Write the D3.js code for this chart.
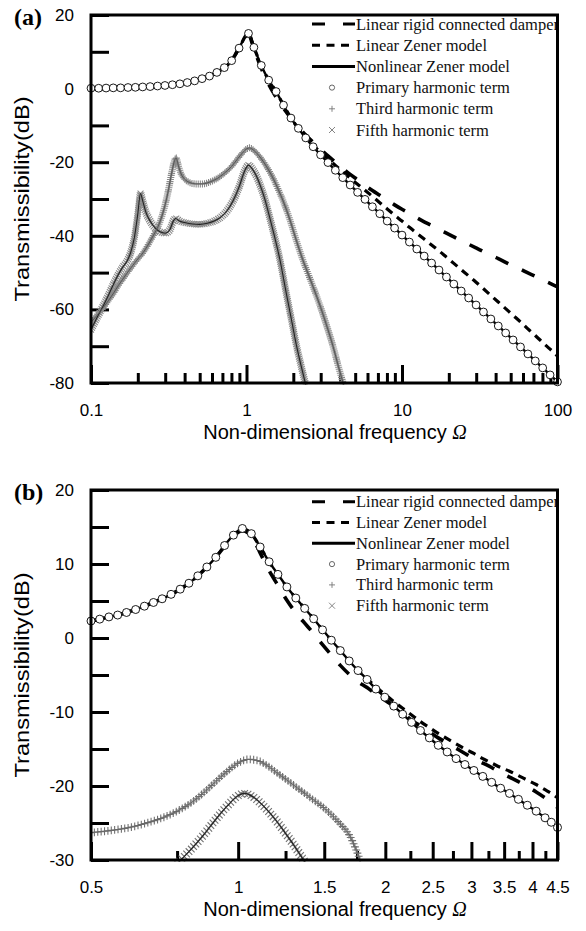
<!DOCTYPE html>
<html><head><meta charset="utf-8">
<script src="https://cdn.jsdelivr.net/npm/d3@7"></script>
<style>body{margin:0;background:#fff}svg{display:block}</style>
</head><body>
<svg id="c" width="586" height="931"></svg>
<script>
// ---------------- DATA: panel (a) ----------------
const freqA = [0.100,0.112,0.125,0.139,0.155,0.173,0.193,0.215,0.240,0.268,0.299,0.334,0.373,0.416,0.464,0.518,0.578,0.645,0.720,0.803,0.896,1.030,1.116,1.245,1.389,1.550,1.730,1.931,2.154,2.404,2.683,2.994,3.341,3.728,4.160,4.642,5.180,5.781,6.451,7.197,8.031,8.962,10.00,11.16,12.45,13.89,15.50,17.30,19.31,21.54,24.04,26.83,29.94,33.41,37.28,41.60,46.42,51.80,57.81,64.51,71.97,80.31,89.62,100.0];
const primaryA = [0.1,0.1,0.15,0.2,0.2,0.3,0.35,0.45,0.55,0.7,0.85,1.05,1.3,1.65,2.1,2.7,3.4,4.4,5.7,7.6,11.0,15.0,11.2,6.3,2.3,-0.8,-4.5,-8.0,-10.8,-13.4,-15.8,-18.0,-20.1,-22.2,-24.2,-26.2,-28.2,-30.1,-32.1,-34.0,-36.0,-37.9,-39.8,-41.7,-43.6,-45.5,-47.4,-49.3,-51.2,-53.1,-55.0,-56.9,-58.8,-60.7,-62.6,-64.5,-66.4,-68.3,-70.2,-72.1,-74.0,-75.9,-77.8,-79.7];
const zenerA = [0.1,0.1,0.15,0.2,0.2,0.3,0.35,0.45,0.55,0.7,0.85,1.05,1.3,1.65,2.1,2.7,3.4,4.4,5.7,7.6,11.0,15.0,11.2,6.3,2.3,-0.8,-4.5,-8.0,-10.8,-13.2,-15.4,-17.3,-19.1,-20.9,-22.6,-24.3,-26.0,-27.6,-29.3,-31.0,-32.7,-34.4,-36.0,-37.7,-39.3,-40.9,-42.5,-44.1,-45.8,-47.5,-49.2,-50.9,-52.6,-54.4,-56.2,-58.0,-59.8,-61.6,-63.4,-65.3,-67.1,-69.0,-70.8,-72.7];
const rigidA = [0.1,0.1,0.15,0.2,0.2,0.3,0.35,0.45,0.55,0.7,0.85,1.05,1.3,1.65,2.1,2.7,3.4,4.4,5.7,7.6,11.0,14.6,10.8,5.5,1.2,-2.3,-5.3,-8.0,-10.4,-12.6,-14.6,-16.5,-18.3,-20.0,-21.7,-23.3,-24.8,-26.3,-27.7,-29.0,-30.3,-31.6,-32.8,-33.9,-35.1,-36.2,-37.2,-38.3,-39.3,-40.3,-41.3,-42.3,-43.3,-44.3,-45.3,-46.2,-47.2,-48.2,-49.1,-50.1,-51.0,-52.0,-52.9,-53.9];
const thirdA_f  = [0.100,0.110,0.120,0.130,0.140,0.150,0.160,0.170,0.180,0.190,0.200,0.210,0.225,0.240,0.255,0.270,0.285,0.300,0.315,0.330,0.345,0.352,0.365,0.380,0.400,0.430,0.470,0.520,0.580,0.650,0.720,0.800,0.880,0.950,1.000,1.045,1.100,1.200,1.300,1.400,1.500,1.600,1.730,1.900,2.100,2.300,2.500,2.700,3.000,3.300,3.600,3.900,4.250];
const thirdA_db = [-63.5,-61.5,-59.5,-57.5,-55.5,-53.5,-51.8,-50.2,-48.8,-47.5,-46.3,-45.3,-43.5,-41.5,-39.5,-37.5,-34.8,-31.5,-27.5,-23.0,-19.5,-18.8,-21.0,-23.2,-24.6,-25.5,-25.9,-25.9,-25.4,-24.4,-23.0,-21.2,-19.0,-17.3,-16.4,-16.1,-16.6,-18.2,-20.2,-22.4,-24.8,-27.4,-30.8,-35.6,-41.5,-46.5,-50.5,-54.2,-59.5,-64.8,-70.0,-75.5,-81.0];
const fifthA_f  = [0.100,0.110,0.120,0.130,0.140,0.150,0.160,0.170,0.180,0.190,0.200,0.208,0.215,0.225,0.240,0.260,0.280,0.300,0.320,0.340,0.350,0.370,0.400,0.450,0.500,0.560,0.620,0.680,0.750,0.820,0.900,0.970,1.030,1.080,1.150,1.230,1.300,1.400,1.500,1.640,1.800,1.950,2.100,2.250,2.420];
const fifthA_db = [-65.5,-62.0,-59.0,-56.0,-53.0,-50.5,-48.5,-47.0,-44.5,-40.5,-34.0,-28.5,-30.5,-33.5,-36.0,-38.0,-39.0,-39.3,-38.5,-35.8,-35.3,-36.0,-36.4,-36.8,-36.9,-36.6,-36.0,-35.0,-33.2,-30.5,-26.5,-22.5,-20.8,-21.6,-23.5,-26.5,-29.5,-34.5,-39.5,-46.5,-55.5,-63.0,-70.0,-75.5,-81.0];
const xTicksA = [0.1,1,10,100];
const xMinorA = [0.2,0.3,0.4,0.5,0.6,0.7,0.8,0.9,2,3,4,5,6,7,8,9,20,30,40,50,60,70,80,90];
const yTicksA = [-80,-70,-60,-50,-40,-30,-20,-10,0,10,20];
const yLabelsA = [-80,-60,-40,-20,0,20];

// ---------------- DATA: panel (b) ----------------
const freqB = [0.500,0.521,0.544,0.567,0.591,0.617,0.643,0.671,0.699,0.729,0.761,0.793,0.827,0.863,0.900,0.938,0.978,1.020,1.064,1.109,1.157,1.206,1.258,1.312,1.368,1.427,1.488,1.551,1.618,1.687,1.759,1.835,1.913,1.995,2.081,2.170,2.263,2.360,2.461,2.566,2.676,2.791,2.910,3.035,3.165,3.300,3.442,3.589,3.743,3.903,4.070,4.244,4.370,4.500];
const primaryB = [2.3,2.55,2.85,3.1,3.45,3.85,4.3,4.8,5.3,5.9,6.6,7.4,8.4,9.6,10.9,12.5,13.9,14.8,14.1,12.3,10.3,8.6,6.9,5.4,4.0,2.6,1.1,-0.3,-1.7,-3.1,-4.4,-5.6,-6.9,-8.0,-9.2,-10.3,-11.4,-12.5,-13.5,-14.5,-15.4,-16.3,-17.1,-17.9,-18.7,-19.5,-20.3,-21.0,-21.8,-22.6,-23.4,-24.3,-24.9,-25.6];
const zenerB = [2.3,2.55,2.85,3.1,3.45,3.85,4.3,4.8,5.3,5.9,6.6,7.4,8.4,9.6,10.9,12.5,13.9,14.8,14.1,12.3,10.3,8.6,6.9,5.4,4.0,2.6,1.1,-0.3,-1.7,-3.1,-4.4,-5.5,-6.6,-7.6,-8.6,-9.5,-10.4,-11.3,-12.1,-12.9,-13.6,-14.3,-15.0,-15.6,-16.3,-16.9,-17.5,-18.0,-18.6,-19.2,-19.8,-20.5,-21.0,-21.6];
const rigidB = [2.3,2.55,2.85,3.1,3.45,3.85,4.3,4.8,5.3,5.9,6.6,7.4,8.4,9.6,10.9,12.4,13.8,14.5,13.8,11.5,9.1,7.1,5.1,3.4,2.0,0.6,-0.9,-2.3,-3.7,-4.9,-5.9,-6.7,-7.6,-8.4,-9.2,-10.1,-11.1,-11.9,-12.7,-13.5,-14.2,-14.9,-15.6,-16.3,-16.9,-17.5,-18.2,-18.8,-19.4,-20.1,-20.8,-21.6,-22.2,-22.9];
const thirdB_f  = [0.500,0.550,0.600,0.650,0.700,0.750,0.800,0.850,0.900,0.950,1.000,1.050,1.100,1.150,1.200,1.300,1.400,1.500,1.600,1.700,1.780];
const thirdB_db = [-26.3,-26.0,-25.6,-25.0,-24.3,-23.4,-22.3,-20.9,-19.4,-18.0,-16.9,-16.4,-16.6,-17.3,-18.2,-19.9,-21.5,-23.0,-24.8,-27.0,-30.2];
const fifthB_f  = [0.750,0.800,0.850,0.900,0.950,1.000,1.030,1.080,1.130,1.200,1.250,1.300,1.370];
const fifthB_db = [-30.5,-28.6,-26.6,-24.5,-22.7,-21.3,-21.0,-21.6,-22.8,-24.8,-26.4,-28.0,-30.3];
const xTicksB = [0.5,1,1.5,2,2.5,3,3.5,4,4.5];
const xMinorB = [0.75,1.25,1.75,2.25,2.75,3.25,3.75,4.25];
const yTicksB = [-30,-25,-20,-15,-10,-5,0,5,10,15,20];
const yLabelsB = [-30,-20,-10,0,10,20];

const legendLabels = ['Linear rigid connected damper','Linear Zener model','Nonlinear Zener model','Primary harmonic term','Third harmonic term','Fifth harmonic term'];

// ---------------- DRAWING ----------------
const SANS = "'Liberation Sans', Arial, Helvetica, sans-serif";
const SERIF = "'Liberation Serif', 'Times New Roman', Times, serif";
const svg = d3.select('#c');
svg.append('rect').attr('width',586).attr('height',931).attr('fill','#fff');
const defs = svg.append('defs');

function zip(f, v){ return f.map((d,i)=>[d, v[i]]); }

function markersAlong(g, node, spacing, h, type, color, sw){
  const L = node.getTotalLength();
  let d = '';
  for (let s = 0; s <= L; s += spacing){
    const p = node.getPointAtLength(s);
    if (type === 'plus') d += `M${p.x-h},${p.y}h${2*h}M${p.x},${p.y-h}v${2*h}`;
    else d += `M${p.x-h},${p.y-h}l${2*h},${2*h}M${p.x-h},${p.y+h}l${2*h},${-2*h}`;
  }
  g.append('path').attr('d', d).attr('fill','none').attr('stroke', color).attr('stroke-width', sw);
}

function panel(p){
  const left = 91, right = 557.5;
  const x = d3.scaleLog().domain(p.xDomain).range([left, right]);
  const y = d3.scaleLinear().domain(p.yDomain).range([p.bottom, p.top]);
  const g = svg.append('g');
  const clipId = 'clip' + p.id;
  defs.append('clipPath').attr('id', clipId).append('rect')
    .attr('x', left).attr('y', p.top).attr('width', right-left).attr('height', p.bottom-p.top+1.5);
  const legClip = 'leg' + p.id;
  defs.append('clipPath').attr('id', legClip).append('rect')
    .attr('x', 300).attr('y', p.top).attr('width', right-300+1).attr('height', 150);

  // axes
  const axMinor = g.append('g').attr('transform', `translate(0,${p.bottom})`)
    .call(d3.axisBottom(x).tickValues(p.xMinor).tickSize(-p.minorLen).tickFormat(''));
  const axMajor = g.append('g').attr('transform', `translate(0,${p.bottom})`)
    .call(d3.axisBottom(x).tickValues(p.xTicks).tickSize(-18).tickPadding(21).tickFormat(d => String(d)));
  const axY = g.append('g').attr('transform', `translate(${left},0)`)
    .call(d3.axisLeft(y).tickValues(p.yTicks).tickSize(-18).tickPadding(17)
      .tickFormat(d => p.yLabels.includes(d) ? String(d) : ''));
  [axMinor, axMajor, axY].forEach(a => {
    a.select('.domain').remove();
    a.selectAll('line').attr('stroke', '#000').attr('stroke-width', 3);
    a.selectAll('text').attr('font-family', SANS).attr('font-size', 17).attr('fill', '#000');
  });
  // frame
  g.append('rect').attr('x', left).attr('y', p.top).attr('width', right-left).attr('height', p.bottom-p.top)
    .attr('fill', 'none').attr('stroke', '#000').attr('stroke-width', 3);

  // titles
  g.append('text').attr('x', 14).attr('y', p.top + 9.5).attr('font-family', SERIF).attr('font-weight', 'bold')
    .attr('font-size', 24).text(p.tag);
  const tt = g.append('text').attr('x', 335).attr('y', p.bottom + 56).attr('text-anchor', 'middle')
    .attr('font-family', SANS).attr('font-size', 20).attr('fill', '#000');
  tt.append('tspan').text('Non-dimensional frequency ');
  tt.append('tspan').attr('font-family', SERIF).attr('font-style', 'italic').text('Ω');
  g.append('text').attr('transform', `translate(29,${(p.top+p.bottom)/2}) rotate(-90)`)
    .attr('text-anchor', 'middle').attr('font-family', SANS).attr('font-size', 20)
    .attr('textLength', p.yTitleLen).attr('lengthAdjust', 'spacingAndGlyphs')
    .text('Transmissibility(dB)');

  const line = d3.line().x(d => x(d[0])).y(d => y(d[1])).curve(d3.curveMonotoneX);
  const data = g.append('g').attr('clip-path', `url(#${clipId})`);

  // harmonic terms
  const h3 = data.append('path').datum(zip(p.third_f, p.third_db)).attr('d', line).attr('fill', 'none')
    .attr('stroke', p.thirdLine).attr('stroke-width', 1);
  markersAlong(data, h3.node(), p.mSpacing, p.mSize, 'plus', p.markColor, 1.1);
  const h5 = data.append('path').datum(zip(p.fifth_f, p.fifth_db)).attr('d', line).attr('fill', 'none')
    .attr('stroke', 'none');
  markersAlong(data, h5.node(), p.mSpacing, p.mSize * 0.85, 'cross', p.markColor, 1.1);
  data.append('path').datum(zip(p.fifth_f, p.fifth_db)).attr('d', line).attr('fill', 'none')
    .attr('stroke', '#222').attr('stroke-width', 1.1);
  data.select('path').raise();

  // model lines
  data.append('path').datum(zip(p.freq, p.rigid)).attr('d', line).attr('fill', 'none')
    .attr('stroke', '#000').attr('stroke-width', 3.6).attr('stroke-dasharray', '14,15');
  data.append('path').datum(zip(p.freq, p.zener)).attr('d', line).attr('fill', 'none')
    .attr('stroke', '#000').attr('stroke-width', 3.2).attr('stroke-dasharray', '8,6');
  data.append('path').datum(zip(p.freq, p.primary)).attr('d', line).attr('fill', 'none')
    .attr('stroke', '#000').attr('stroke-width', 2.4);

  // primary harmonic circles
  g.append('g').selectAll('circle').data(zip(p.freq, p.primary)).join('circle')
    .attr('cx', d => x(d[0])).attr('cy', d => y(d[1])).attr('r', p.cr)
    .attr('fill', '#fff').attr('stroke', '#000').attr('stroke-width', 0.9);

  // legend
  const lg = g.append('g').attr('clip-path', `url(#${legClip})`);
  const dashes = ['13,18', '8,6.5', null];
  legendLabels.forEach((lab, i) => {
    const yy = p.legY + i * p.legDy;
    if (i < 3) {
      lg.append('line').attr('x1', 312).attr('x2', i === 1 ? 349 : 355).attr('y1', yy).attr('y2', yy)
        .attr('stroke', '#000').attr('stroke-width', 3).attr('stroke-dasharray', dashes[i]);
    } else if (i === 3) {
      lg.append('circle').attr('cx', 332).attr('cy', yy).attr('r', 2.6).attr('fill', '#fff')
        .attr('stroke', '#444').attr('stroke-width', 0.8);
    } else {
      const hh = 3;
      const d = i === 4 ? `M${332-hh},${yy}h${2*hh}M332,${yy-hh}v${2*hh}`
                        : `M${332-hh},${yy-hh}l${2*hh},${2*hh}M${332-hh},${yy+hh}l${2*hh},${-2*hh}`;
      lg.append('path').attr('d', d).attr('stroke', '#777').attr('stroke-width', 0.9).attr('fill', 'none');
    }
    lg.append('text').attr('x', 356).attr('y', yy + 5.5).attr('font-family', SERIF).attr('font-size', 16.5)
      .attr('fill', '#111').text(lab);
  });
  g.select('rect').raise();
}

panel({id:'a', tag:'(a)', xDomain:[0.1,100], yDomain:[-80,20], top:15, bottom:383,
  xTicks:xTicksA, xMinor:xMinorA, minorLen:10, yTicks:yTicksA, yLabels:yLabelsA, yTitleLen:205,
  freq:freqA, primary:primaryA, zener:zenerA, rigid:rigidA,
  third_f:thirdA_f, third_db:thirdA_db, fifth_f:fifthA_f, fifth_db:fifthA_db,
  mSpacing:2.1, mSize:3.5, markColor:'#8a8a8a', thirdLine:'#555', cr:3.9,
  legY:24, legDy:21.2});
panel({id:'b', tag:'(b)', xDomain:[0.5,4.5], yDomain:[-30,20], top:490, bottom:860,
  xTicks:xTicksB, xMinor:xMinorB, minorLen:9, yTicks:yTicksB, yLabels:yLabelsB, yTitleLen:205,
  freq:freqB, primary:primaryB, zener:zenerB, rigid:rigidB,
  third_f:thirdB_f, third_db:thirdB_db, fifth_f:fifthB_f, fifth_db:fifthB_db,
  mSpacing:3.4, mSize:3.9, markColor:'#707070', thirdLine:'#666', cr:4.0,
  legY:501.7, legDy:20.8});
</script>
</body></html>
